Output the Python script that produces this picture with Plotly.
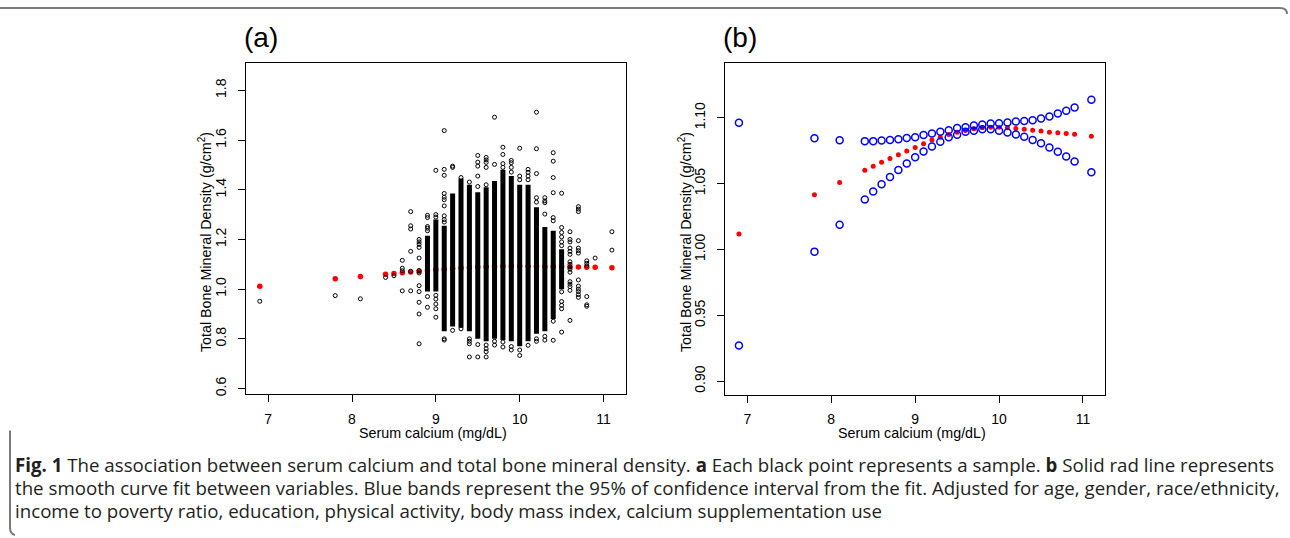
import plotly.graph_objects as go

# ---------------- data ----------------
fit_ca = [6.9, 7.8, 8.1, 8.4, 8.5, 8.6, 8.7, 8.8, 8.9, 9.0, 9.1, 9.2, 9.3, 9.4, 9.5,
          9.6, 9.7, 9.8, 9.9, 10.0, 10.1, 10.2, 10.3, 10.4, 10.5, 10.6, 10.7, 10.8, 10.9, 11.1]
fit_bmd = [1.0117, 1.0415, 1.0508, 1.0601, 1.0632, 1.0662, 1.0692, 1.0720, 1.0748, 1.0775,
           1.0803, 1.0831, 1.0853, 1.0874, 1.0891, 1.0904, 1.0917, 1.0924, 1.0929, 1.0929,
           1.0924, 1.0919, 1.0914, 1.0906, 1.0899, 1.0891, 1.0886, 1.0881, 1.0876, 1.0861]
upper_bmd = [1.0962, 1.0844, 1.0829, 1.0823, 1.0823, 1.0828, 1.0831, 1.0838, 1.0846, 1.0853,
             1.0869, 1.0881, 1.0894, 1.0906, 1.0922, 1.0929, 1.0942, 1.0949, 1.0957, 1.0959,
             1.0964, 1.0972, 1.0975, 1.0982, 1.0995, 1.1010, 1.1033, 1.1053, 1.1078, 1.1138]
lower_bmd = [0.9272, 0.9984, 1.0188, 1.0379, 1.0440, 1.0495, 1.0551, 1.0604, 1.0654, 1.0700,
             1.0745, 1.0783, 1.0818, 1.0853, 1.0871, 1.0894, 1.0901, 1.0914, 1.0914, 1.0901,
             1.0889, 1.0874, 1.0856, 1.0831, 1.0806, 1.0775, 1.0743, 1.0707, 1.0669, 1.0586]

# sample columns: isolated points
sparse_ca = [6.9, 7.8, 8.1, 8.4, 8.5, 8.6, 8.7, 8.8, 8.9, 9.0, 9.1, 9.2, 9.3, 9.4, 9.5, 9.6,
             9.7, 9.8, 9.9, 10.0, 10.1, 10.2, 10.3, 10.4, 10.5, 10.6, 10.7, 10.8, 10.9, 11.1]
sparse_bmd = [
    [0.951],
    [0.974],
    [0.961],
    [1.047],
    [1.054],
    [1.116, 1.084, 1.074, 0.993],
    [1.312, 1.255, 1.242, 1.152, 1.072, 0.993],
    [1.200, 1.190, 1.180, 1.168, 1.125, 1.075, 1.065, 1.014, 0.990, 0.947, 0.900, 0.780],
    [1.297, 1.288, 1.252, 1.245, 1.235, 0.970, 0.927],
    [1.478, 1.300, 1.290, 0.975, 0.960, 0.940, 0.921, 0.887],
    [1.638, 1.482, 1.458, 1.385, 1.370, 1.360, 1.335, 1.295, 1.280, 1.270, 0.800, 0.795],
    [1.495, 1.490, 0.834],
    [1.449, 0.840],
    [1.431, 0.800, 0.790, 0.780, 0.727],
    [1.538, 1.511, 1.495, 1.455, 1.413, 0.777, 0.727],
    [1.530, 1.520, 1.510, 1.490, 1.420, 0.775, 0.760, 0.748, 0.727],
    [1.692, 1.502, 0.790, 0.775],
    [1.571, 1.542, 1.505, 1.490, 0.787, 0.767],
    [1.518, 1.509, 1.490, 1.471, 0.769, 0.755],
    [1.567, 1.455, 1.440, 0.755, 0.733],
    [1.482, 1.470, 1.455, 1.440, 0.774],
    [1.712, 1.565, 1.465, 1.368, 1.350, 0.800, 0.790],
    [1.368, 1.355, 1.348, 1.302, 0.810, 0.795],
    [1.549, 1.515, 1.449, 1.388, 1.288, 1.275, 0.871, 0.794],
    [1.386, 1.248, 1.228, 1.210, 1.190, 1.175, 0.989, 0.950, 0.935, 0.921, 0.827],
    [1.231, 1.200, 1.190, 1.165, 1.152, 1.140, 1.110, 1.100, 1.090, 1.080, 1.068, 1.030,
     1.020, 1.010, 0.995, 0.874],
    [1.332, 1.322, 1.312, 1.195, 1.165, 1.155, 1.145, 1.037, 1.012, 1.000, 0.990, 0.978, 0.967],
    [1.114, 1.104, 1.094, 0.970, 0.937, 0.931],
    [1.125],
    [1.231, 1.157],
]
# sample columns: solid (overplotted) stretches of points, low and high ends
dense_ca = [8.9, 9.0, 9.1, 9.2, 9.3, 9.4, 9.5, 9.6, 9.7, 9.8, 9.9, 10.0, 10.1, 10.2, 10.3, 10.4, 10.5]
dense_lo = [0.990, 0.990, 0.830, 0.850, 0.845, 0.830, 0.800, 0.790, 0.800, 0.795, 0.790, 0.770,
            0.790, 0.820, 0.830, 0.880, 1.000]
dense_hi = [1.215, 1.280, 1.255, 1.385, 1.445, 1.420, 1.390, 1.410, 1.435, 1.480, 1.455, 1.420,
            1.420, 1.330, 1.250, 1.235, 1.160]

x_ticks = [7, 8, 9, 10, 11]
ya_ticks = [0.6, 0.8, 1.0, 1.2, 1.4, 1.6, 1.8]
ya_text = ["0.6", "0.8", "1.0", "1.2", "1.4", "1.6", "1.8"]
yb_ticks = [0.90, 0.95, 1.00, 1.05, 1.10]
yb_text = ["0.90", "0.95", "1.00", "1.05", "1.10"]

caption_lines = [
    "<b>Fig. 1</b> The association between serum calcium and total bone mineral density. "
    "<b>a</b> Each black point represents a sample. <b>b</b> Solid rad line represents",
    "the smooth curve fit between variables. Blue bands represent the 95% of confidence "
    "interval from the fit. Adjusted for age, gender, race/ethnicity,",
    "income to poverty ratio, education, physical activity, body mass index, calcium "
    "supplementation use",
]

# ---------------- figure ----------------
W, H = 1290, 538
fig = go.Figure()

# panel (a)
fig.add_trace(go.Scatter(x=fit_ca, y=fit_bmd, mode="markers", xaxis="x", yaxis="y",
                         marker=dict(symbol="circle", size=5.5, color="#FF0000"),
                         showlegend=False, hoverinfo="skip"))
bx, by = [], []
for c, lo, hi in zip(dense_ca, dense_lo, dense_hi):
    bx += [c, c, None]
    by += [lo, hi, None]
fig.add_trace(go.Scatter(x=bx, y=by, mode="lines", xaxis="x", yaxis="y",
                         line=dict(color="black", width=5),
                         showlegend=False, hoverinfo="skip"))
sx, sy = [], []
for c, ys in zip(sparse_ca, sparse_bmd):
    sx += [c] * len(ys)
    sy += ys
fig.add_trace(go.Scatter(x=sx, y=sy, mode="markers", xaxis="x", yaxis="y",
                         marker=dict(symbol="circle-open", size=4, color="black",
                                     line=dict(width=1, color="black")),
                         showlegend=False, hoverinfo="skip"))

# panel (b)
fig.add_trace(go.Scatter(x=fit_ca, y=fit_bmd, mode="markers", xaxis="x2", yaxis="y2",
                         marker=dict(symbol="circle", size=5, color="#FF0000"),
                         showlegend=False, hoverinfo="skip"))
for arr in (upper_bmd, lower_bmd):
    fig.add_trace(go.Scatter(x=fit_ca, y=arr, mode="markers", xaxis="x2", yaxis="y2",
                             marker=dict(symbol="circle-open", size=7, color="#0000FF",
                                         line=dict(width=1.5, color="#0000FF")),
                             showlegend=False, hoverinfo="skip"))

axfont = dict(family="Liberation Sans, Arial, sans-serif", size=14, color="black")
titlefont = dict(family="Liberation Sans, Arial, sans-serif", size=14.3, color="black")
common = dict(showgrid=False, zeroline=False, showline=True, mirror=True, linecolor="black",
              linewidth=1.3, ticks="outside", ticklen=7, tickwidth=1, tickcolor="black",
              tickfont=axfont)


def px(x):
    return x / W


def py(y):
    return 1 - y / H


fig.update_layout(
    width=W, height=H, margin=dict(l=0, r=0, t=0, b=0),
    paper_bgcolor="white", plot_bgcolor="white",
    xaxis=dict(domain=[px(245.7), px(626)], range=[6.732, 11.268], tickvals=x_ticks,
               anchor="y", ticklabelstandoff=5, **common),
    yaxis=dict(domain=[py(395.7), py(63)], range=[0.577, 1.911], tickvals=ya_ticks,
               ticktext=ya_text, tickangle=-90, anchor="x", ticklabelstandoff=6, **common),
    xaxis2=dict(domain=[px(725), px(1105.3)], range=[6.734, 11.266], tickvals=x_ticks,
                anchor="y2", ticklabelstandoff=5, **common),
    yaxis2=dict(domain=[py(396), py(63)], range=[0.8899, 1.1418], tickvals=yb_ticks,
                ticktext=yb_text, tickangle=-90, anchor="x2", ticklabelstandoff=6, **common),
)

ann = []
for cx, lab in ((433, "Serum calcium (mg/dL)"), (912, "Serum calcium (mg/dL)")):
    ann.append(dict(x=px(cx), y=py(435), xref="paper", yref="paper", text=lab,
                    showarrow=False, font=titlefont, xanchor="center", yanchor="middle"))
for cx in (205, 685):
    ann.append(dict(x=px(cx), y=py(243), xref="paper", yref="paper",
                    text="Total Bone Mineral Density (g/cm<sup>2</sup>)", textangle=-90,
                    showarrow=False, font=titlefont, xanchor="center", yanchor="middle"))
for lx, lab in ((242, "(a)"), (721, "(b)")):
    ann.append(dict(x=px(lx), y=py(38), xref="paper", yref="paper", text=lab,
                    showarrow=False, xanchor="left", yanchor="middle",
                    font=dict(family="Liberation Sans, Arial, sans-serif", size=28, color="black")))
capfont = dict(family="Open Sans, sans-serif", size=18.7, color="#231F20")
for yy, line in zip((466, 489, 512), caption_lines):
    ann.append(dict(x=px(13), y=py(yy), xref="paper", yref="paper", text=line,
                    showarrow=False, xanchor="left", yanchor="middle", font=capfont))
fig.update_layout(annotations=ann)

# frame of the figure box
fig.add_shape(type="path", xref="paper", yref="paper",
              path=f"M 0 {py(8)} L {px(1280)} {py(8)} Q {px(1287)} {py(8)} {px(1287)} {py(14)}",
              line=dict(color="#7a7a7a", width=2))
fig.add_shape(type="path", xref="paper", yref="paper",
              path=f"M {px(10)} {py(432)} L {px(10)} {py(530)} Q {px(10)} {py(536)} {px(15)} {py(537)}",
              line=dict(color="#7a7a7a", width=2))

fig.write_html("out.html", config={"displayModeBar": False},
               post_script="document.body.style.margin='0';document.body.style.overflow='hidden';")
